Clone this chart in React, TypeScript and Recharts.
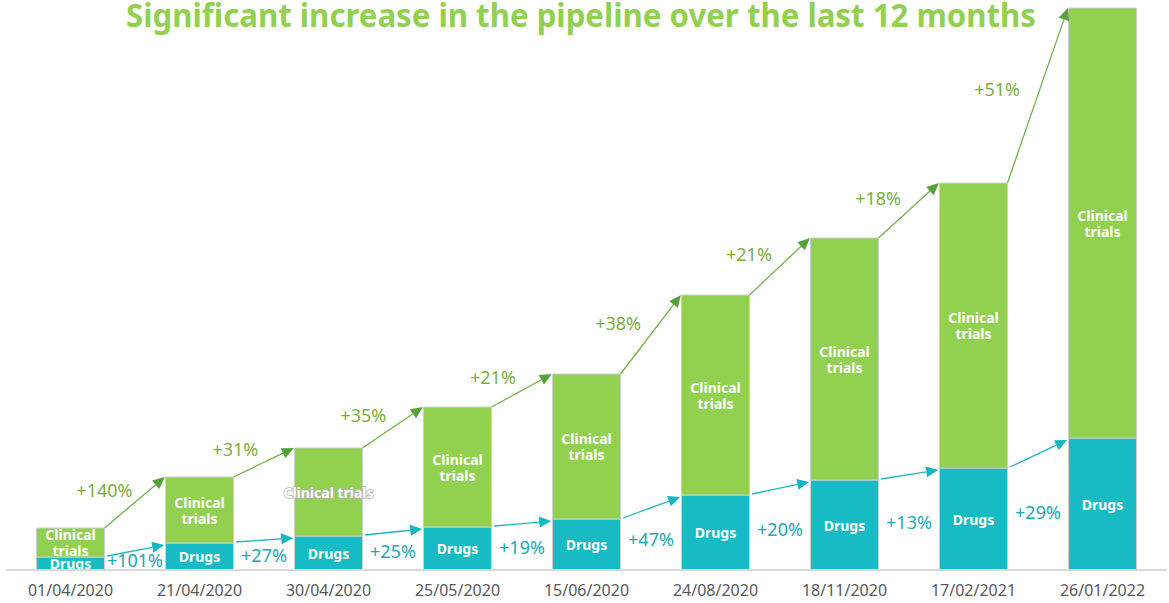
import React from "react";
import { ComposedChart, Bar, XAxis, YAxis, ReferenceLine, Rectangle } from "recharts";

// dates of each snapshot
const dates = [
  "01/04/2020",
  "21/04/2020",
  "30/04/2020",
  "25/05/2020",
  "15/06/2020",
  "24/08/2020",
  "18/11/2020",
  "17/02/2021",
  "26/01/2022",
];
const drugs = [13, 27, 34, 43, 51, 75, 90, 102, 132];
const clinicalTrials = [29, 66, 88, 120, 145, 200, 242, 285, 430];
// growth between two snapshots
const clinicalGrowth = ["+140%", "+31%", "+35%", "+21%", "+38%", "+21%", "+18%", "+51%"];
const drugsGrowth = ["+101%", "+27%", "+25%", "+19%", "+47%", "+20%", "+13%", "+29%"];
// text inside the bars ("|" = line break)
const clinicalLabels = [
  "Clinical|trials",
  "Clinical|trials",
  "Clinical trials",
  "Clinical|trials",
  "Clinical|trials",
  "Clinical|trials",
  "Clinical|trials",
  "Clinical|trials",
  "Clinical|trials",
];
const drugsLabel = "Drugs";
const title = "Significant increase in the pipeline over the last 12 months";

const GREEN = "#92D050";
const TEAL = "#17BBC4";
const GREEN_TEXT = "#7BAE3C";
const TEAL_TEXT = "#1AAAB4";
const FONT = "'Noto Sans', sans-serif";
const GAP = 0.2364; // barCategoryGap as fraction of band

const data = dates.map((date, i) => ({
  date,
  drugs: drugs[i],
  clinical: clinicalTrials[i],
  total: drugs[i] + clinicalTrials[i],
  clinicalLabel: clinicalLabels[i],
}));

function BarShape(props: any) {
  const { x, y, width, height, fill, label } = props;
  const lines: string[] = label.split("|");
  const cx = x + width / 2;
  const cy = y + height / 2;
  const single = lines.length === 1 && label.length > 6;
  return (
    <g>
      <Rectangle x={x} y={y} width={width} height={height} fill={fill} stroke="#CFCFCF" strokeWidth={1} />
      {lines.map((t, k) => (
        <text
          key={k}
          x={cx}
          y={cy + (k - (lines.length - 1) / 2) * 16}
          textAnchor="middle"
          dominantBaseline="central"
          fill="#fff"
          fontFamily={FONT}
          fontWeight={700}
          fontSize={14}
          stroke={single ? "#B5B5B5" : "none"}
          strokeWidth={single ? 1.5 : 0}
          paintOrder="stroke"
        >
          {t}
        </text>
      ))}
    </g>
  );
}

// segment goes from category centre to next category centre;
// the arrow runs from the right edge of one bar to the left edge of the next
function Arrow(props: any) {
  const { x1, y1, x2, y2, color, headColor, label, padStart = 0, padEnd = 0 } = props;
  if ([x1, y1, x2, y2].some((v) => v == null || isNaN(v))) return null;
  const sx = x1 + (x2 - x1) * (0.5 - GAP + padStart);
  const ex = x1 + (x2 - x1) * (0.5 + GAP - padEnd);
  const sy = y1;
  const ey = y2;
  const dx = ex - sx;
  const dy = ey - sy;
  const len = Math.hypot(dx, dy);
  const ux = dx / len;
  const uy = dy / len;
  const hl = 12;
  const hw = 5.5;
  const bx = ex - ux * hl;
  const by = ey - uy * hl;
  const pts = `${ex},${ey} ${bx - uy * hw},${by + ux * hw} ${bx + uy * hw},${by - ux * hw}`;
  // steeper arrows push the label further left
  const slope = Math.abs(dy / dx);
  return (
    <g>
      <line x1={sx} y1={sy} x2={bx} y2={by} stroke={color} strokeWidth={1.3} />
      <polygon points={pts} fill={headColor} />
      {label && (
        <text
          x={(sx + ex) / 2 - 26 - 5 * slope}
          y={(sy + ey) / 2 - 15 + 3 * slope}
          textAnchor="middle"
          dominantBaseline="central"
          fill={GREEN_TEXT}
          fontFamily={FONT}
          fontSize={18}
        >
          {label}
        </text>
      )}
    </g>
  );
}

function GapLabel(props: any) {
  const { x1, y1, x2, text } = props;
  if ([x1, y1, x2].some((v) => v == null || isNaN(v))) return null;
  return (
    <text
      x={(x1 + x2) / 2}
      y={y1}
      textAnchor="middle"
      dominantBaseline="central"
      fill={TEAL_TEXT}
      fontFamily={FONT}
      fontSize={18}
    >
      {text}
    </text>
  );
}

export default function App() {
  const W = 1169;
  const H = 603;
  return (
    <div style={{ position: "absolute", left: 0, top: 0, width: W, height: H, background: "#fff" }}>
      <ComposedChart
        width={W}
        height={H}
        data={data}
        margin={{ top: 8, right: 2, bottom: 3, left: 6 }}
        barCategoryGap={`${GAP * 100}%`}
      >
        <XAxis
          dataKey="date"
          height={30}
          tickLine={false}
          tickSize={0}
          tickMargin={15}
          axisLine={{ stroke: "#D9D9D9", strokeWidth: 2 }}
          tick={{ fontSize: 16, fill: "#595959", fontFamily: FONT }}
          interval={0}
        />
        <YAxis hide domain={[0, 562]} />
        <Bar
          dataKey="drugs"
          stackId="a"
          fill={TEAL}
          isAnimationActive={false}
          shape={(p: any) => <BarShape {...p} label={drugsLabel} />}
        />
        <Bar
          dataKey="clinical"
          stackId="a"
          fill={GREEN}
          isAnimationActive={false}
          shape={(p: any) => <BarShape {...p} label={p.payload.clinicalLabel} />}
        />
        {clinicalGrowth.map((g, i) => (
          <ReferenceLine
            key={`g${i}`}
            segment={[
              { x: dates[i], y: data[i].total },
              { x: dates[i + 1], y: data[i + 1].total },
            ]}
            ifOverflow="visible"
            shape={(p: any) => (
              <Arrow {...p} color="#72B14C" headColor="#55A13A" label={g} padEnd={0.005} />
            )}
          />
        ))}
        {drugsGrowth.map((g, i) => (
          <ReferenceLine
            key={`d${i}`}
            segment={[
              { x: dates[i], y: drugs[i] + 1 },
              { x: dates[i + 1], y: drugs[i + 1] - 2 },
            ]}
            ifOverflow="visible"
            shape={(p: any) => (
              <Arrow {...p} color="#1FB8C2" headColor="#17B5BF" padStart={0.02} padEnd={0.01} />
            )}
          />
        ))}
        {drugsGrowth.map((g, i) => (
          <ReferenceLine
            key={`dl${i}`}
            segment={[
              { x: dates[i], y: (drugs[i] + drugs[i + 1]) / 4 },
              { x: dates[i + 1], y: (drugs[i] + drugs[i + 1]) / 4 },
            ]}
            ifOverflow="visible"
            shape={(p: any) => <GapLabel {...p} text={g} />}
          />
        ))}
      </ComposedChart>
      <svg width={W} height={50} style={{ position: "absolute", left: 0, top: 0, pointerEvents: "none" }}>
        <text
          x={126}
          y={27}
          fill={GREEN}
          fontFamily={FONT}
          fontWeight={700}
          fontSize={33}
          textLength={910}
          lengthAdjust="spacingAndGlyphs"
        >
          {title}
        </text>
      </svg>
    </div>
  );
}
